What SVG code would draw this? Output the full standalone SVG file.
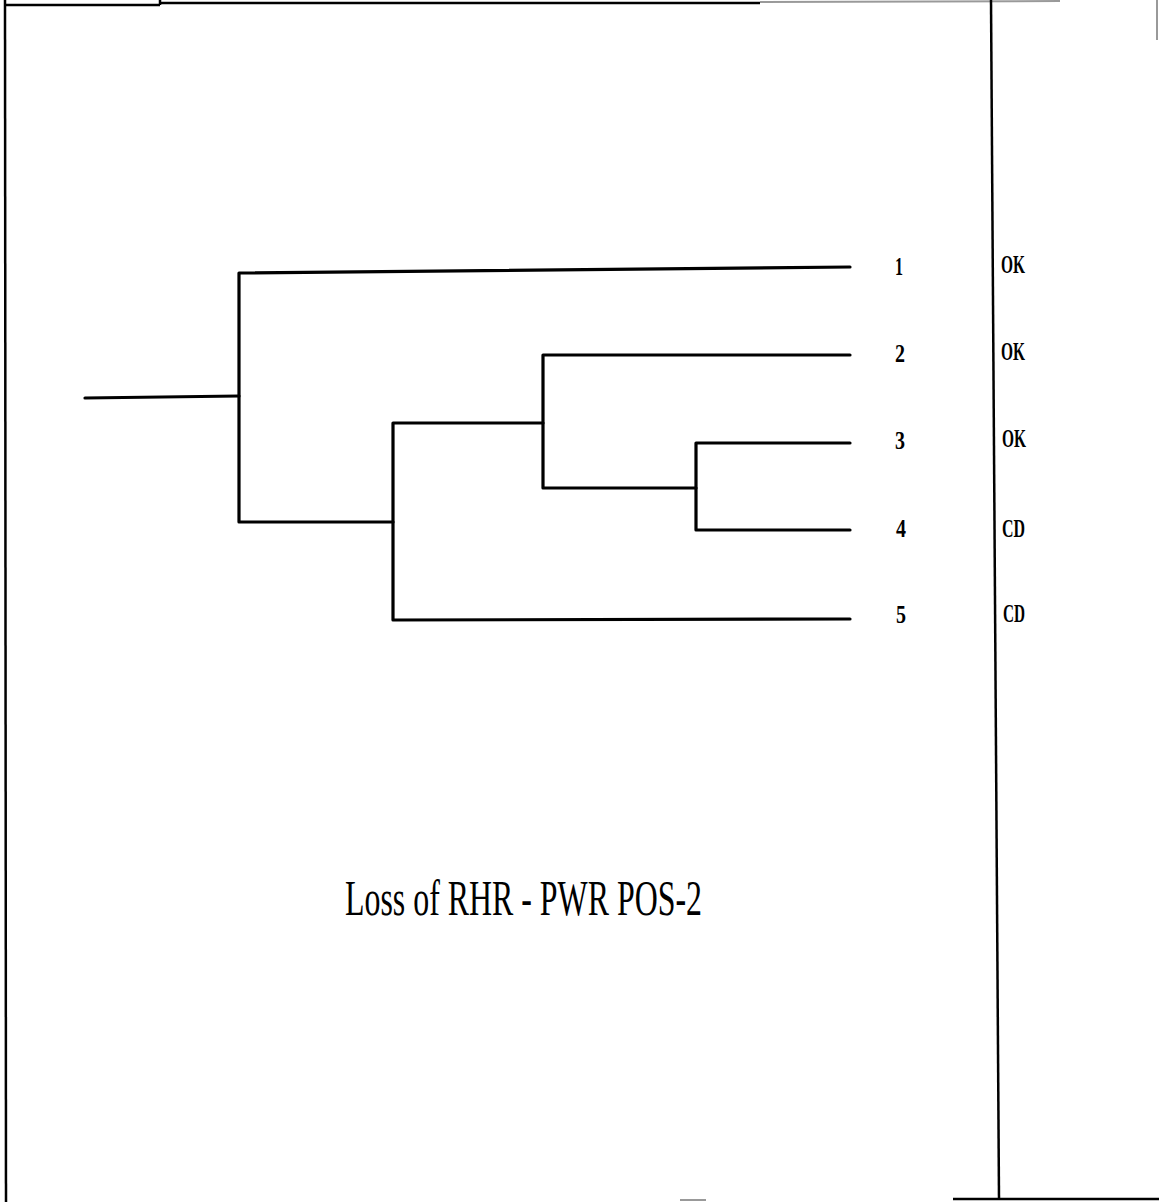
<svg xmlns="http://www.w3.org/2000/svg" width="1159" height="1202" viewBox="0 0 1159 1202">
<style>
.frame{stroke:#000;stroke-width:2.5;fill:none}
.faint{stroke:#999;stroke-width:2;fill:none}
.edge{stroke:#000;stroke-width:3.2;fill:none;stroke-linecap:round;stroke-linejoin:round}
.lbl{font-family:"Liberation Serif","Times New Roman",serif;font-weight:bold;font-size:26px;fill:#000}
.title{font-family:"Liberation Serif","Times New Roman",serif;font-size:50px;fill:#000}
</style>
<rect width="1159" height="1202" fill="#fff"/>
<g id="frame">
  <line class="frame" x1="5" y1="0" x2="6" y2="1202"/>
  <line class="frame" x1="5" y1="5" x2="160" y2="5"/>
  <line class="frame" x1="160" y1="0" x2="160" y2="5"/>
  <line class="frame" x1="160" y1="3" x2="760" y2="3"/>
  <line class="faint" x1="760" y1="2" x2="1060" y2="1"/>
  <line class="frame" x1="991" y1="0" x2="999" y2="1199"/>
  <line class="frame" x1="953" y1="1199" x2="1159" y2="1199"/>
  <line class="faint" x1="680" y1="1200" x2="706" y2="1200"/>
  <line class="faint" x1="1157" y1="0" x2="1157" y2="40"/>
</g>
<g id="connectors">
  <polyline class="edge" points="85,398 239,396"/>
  <polyline class="edge" points="850,267 239,273 239,522 393,522"/>
  <polyline class="edge" points="543,423 393,423 393,620 850,619"/>
  <polyline class="edge" points="850,355 543,355 543,488 696,488"/>
  <polyline class="edge" points="850,443 696,443 696,530 850,530"/>
</g>
<g id="node-1"><text class="lbl" x="899" y="275" text-anchor="middle" textLength="8" lengthAdjust="spacingAndGlyphs">1</text><text class="lbl" x="1001" y="273" textLength="24" lengthAdjust="spacingAndGlyphs">OK</text></g>
<g id="node-2"><text class="lbl" x="900" y="362" text-anchor="middle" textLength="10" lengthAdjust="spacingAndGlyphs">2</text><text class="lbl" x="1001" y="360" textLength="24" lengthAdjust="spacingAndGlyphs">OK</text></g>
<g id="node-3"><text class="lbl" x="900" y="449" text-anchor="middle" textLength="10" lengthAdjust="spacingAndGlyphs">3</text><text class="lbl" x="1002" y="447" textLength="24" lengthAdjust="spacingAndGlyphs">OK</text></g>
<g id="node-4"><text class="lbl" x="901" y="537" text-anchor="middle" textLength="10" lengthAdjust="spacingAndGlyphs">4</text><text class="lbl" x="1002" y="537" textLength="23" lengthAdjust="spacingAndGlyphs">CD</text></g>
<g id="node-5"><text class="lbl" x="901" y="623" text-anchor="middle" textLength="10" lengthAdjust="spacingAndGlyphs">5</text><text class="lbl" x="1003" y="622" textLength="22" lengthAdjust="spacingAndGlyphs">CD</text></g>
<g id="title"><text class="title" x="345" y="915" textLength="357" lengthAdjust="spacingAndGlyphs">Loss of RHR - PWR POS-2</text></g>
</svg>
